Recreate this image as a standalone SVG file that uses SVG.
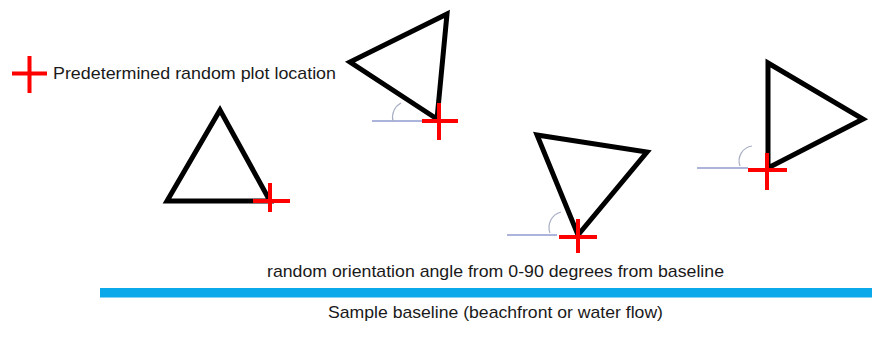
<svg xmlns="http://www.w3.org/2000/svg" width="872" height="338" viewBox="0 0 872 338">
<style>
.tri{fill:none;stroke:#000;stroke-width:5;stroke-linejoin:miter}
.cross{stroke:#FF0000;stroke-width:4;fill:none}
.ref{stroke:#5A6BB8;stroke-width:1.2;fill:none}
.arc{stroke:#A8AFC4;stroke-width:1.2;fill:none}
.lbl{font-family:"Liberation Sans",Arial,sans-serif;font-size:17px;fill:#1a1a1a}
</style>
<rect width="872" height="338" fill="#fff"/>
<g id="legend">
<path class="cross" d="M12 73.5H47M29.5 56V93"/>
<text class="lbl" x="53" y="79" textLength="283" lengthAdjust="spacingAndGlyphs">Predetermined random plot location</text>
</g>
<g id="plot1">
<polygon class="tri" points="220,110 167,201 270,201"/>
<path class="cross" d="M253 201H290M270 183V212"/>
</g>
<g id="plot2">
<polygon class="tri" points="447,14 350,62 437,119"/>
<g class="connectors"><path class="ref" d="M372 121H422"/><path class="arc" d="M393 121A16 16 0 0 1 401 103"/></g>
<path class="cross" d="M422 121H458M439 103V140"/>
</g>
<g id="plot3">
<polygon class="tri" points="537,135 647,152 578,235"/>
<g class="connectors"><path class="ref" d="M507 235H557"/><path class="arc" d="M550 233A16 16 0 0 1 561 212"/></g>
<path class="cross" d="M559 237H597M578 219V253"/>
</g>
<g id="plot4">
<polygon class="tri" points="768,63 863,119 768,168"/>
<g class="connectors"><path class="ref" d="M697 168H748"/><path class="arc" d="M740 166A15 15 0 0 1 752 146"/></g>
<path class="cross" d="M748 170H787M767 153V190"/>
</g>
<g id="baseline">
<text class="lbl" x="267" y="277" textLength="457" lengthAdjust="spacingAndGlyphs">random orientation angle from 0-90 degrees from baseline</text>
<rect x="100" y="288" width="772" height="9.5" fill="#0BA8EA"/>
<text class="lbl" x="328" y="318" textLength="335" lengthAdjust="spacingAndGlyphs">Sample baseline (beachfront or water flow)</text>
</g>
</svg>
